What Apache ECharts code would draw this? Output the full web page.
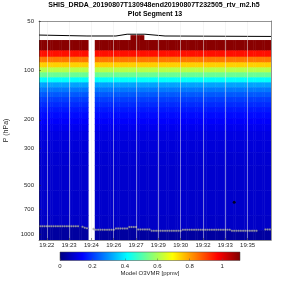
<!DOCTYPE html>
<html>
<head>
<meta charset="utf-8">
<script src="https://cdn.jsdelivr.net/npm/echarts@6/dist/echarts.min.js"></script>
<style>
  html, body { margin: 0; padding: 0; background: #fff; }
  #chart { width: 300px; height: 300px; }
</style>
</head>
<body>
<div id="chart"></div>
<script>
// pressure band edges (hPa), top to bottom, and O3 VMR (ppmv) inside each band
const bandEdges = [65.3, 75.5, 82.5, 89.3, 95.8, 102.7, 110.2, 118.2, 126.8, 135.5, 145.3, 155.9,
  167.2, 179.4, 195.2, 212.3, 234, 266, 315, 378, 537, 762, 1080];
const bandO3 = [1.10, 0.955, 0.84, 0.745, 0.615, 0.53, 0.42, 0.315, 0.27, 0.235, 0.205, 0.185,
  0.165, 0.15, 0.135, 0.12, 0.108, 0.097, 0.09, 0.085, 0.082, 0.078];
const belowSurfO3 = 0.035;

// surface pressure per profile (hPa), profiles 1..104
const surfP = [
  889, 889, 889, 889, 889, 889, 889, 889, 889, 889, 889, 889, 889, 889, 889, 889, 889, 889,
  892, 897, 908, 915, null, null, 926,
  935, 935, 935, 935, 935, 935, 935, 935, 935,
  918, 918, 918, 918, 918, 918,
  900, 900, 900, 900,
  931, 931, 931, 931, 931, 931,
  950, 950, 950, 950, 950, 950, 950, 950, 950, 950, 950, 950, 950, 950,
  935, 935, 935, 935, 935, 935, 935, 935, 935, 935, 935, 935, 935, 935, 935, 935, 935, 935, 935, 935, 935, 935,
  950, 950, 950, 950, 950, 950, 950, 950, 950, 950, 950, 950,
  940, 940, 940,
  931, 931, 931
];
const missingProfiles = [23, 24, 25];
const noDotProfiles = [19, 99, 100, 101];
const highTopProfiles = [42, 43, 44, 45, 46, 47];
const highTopP = 61.0;

// black line near the top [profile, hPa]
const topLine = [[0.5, 60.9], [22, 61.7], [35, 61.7], [40, 60.2], [48, 60.2], [57, 61.7], [104.5, 62.1]];
// single black marker [profile, hPa]
const spot = [[88, 637]];

const tickProfiles = [4, 14, 24, 34, 44, 54, 64, 74, 84, 94];
const tickTimes = ['19:22', '19:23', '19:24', '19:26', '19:27', '19:29', '19:30', '19:32', '19:33', '19:35'];
const pTicks = [50, 100, 200, 300, 500, 700, 1000];
const cLim = [0, 1.11];

function clamp(v) { return Math.max(0, Math.min(1, v)); }
function jet(t) {
  t = clamp(t);
  const r = clamp(Math.min(4 * t - 1.5, -4 * t + 4.5));
  const g = clamp(Math.min(4 * t - 0.5, -4 * t + 3.5));
  const b = clamp(Math.min(4 * t + 0.5, -4 * t + 2.5));
  return 'rgb(' + Math.round(r * 255) + ',' + Math.round(g * 255) + ',' + Math.round(b * 255) + ')';
}

// cells: [profile, pTop, pBottom, o3]
const cells = [];
const pBottom = bandEdges[bandEdges.length - 1];
for (let i = 1; i <= surfP.length; i++) {
  if (missingProfiles.includes(i)) continue;
  const ps = surfP[i - 1];
  for (let b = 0; b < bandO3.length; b++) {
    const top = b === 0 && highTopProfiles.includes(i) ? highTopP : bandEdges[b];
    const bot = Math.min(bandEdges[b + 1], ps);
    if (bot > top) cells.push([i, top, bot, bandO3[b]]);
  }
  cells.push([i, ps, pBottom, belowSurfO3]);
}

const dots = [];
surfP.forEach((p, k) => {
  if (p != null && !noDotProfiles.includes(k + 1)) dots.push([k + 1, p]);
});

const txt = '#262626';
const font = 'Liberation Sans, Arial, sans-serif';
const titleStyle = { fontSize: 7, fontWeight: 'bold', color: '#000', fontFamily: font };

const chart = echarts.init(document.getElementById('chart'));
chart.setOption({
  animation: false,
  textStyle: { fontFamily: font },
  title: [
    { text: 'SHIS_DRDA_20190807T130948end20190807T232505_rtv_m2.h5', left: 154, top: 2, textAlign: 'center', padding: 0, textStyle: titleStyle },
    { text: 'Plot Segment 13', left: 155, top: 11, textAlign: 'center', padding: 0, textStyle: titleStyle }
  ],
  grid: [
    { left: 39, right: 29, top: 21, height: 219, outerBoundsMode: 'none' },
    { left: 60, width: 180, top: 252, height: 8.5, outerBoundsMode: 'none' }
  ],
  xAxis: [
    {
      type: 'value', gridIndex: 0, min: 0.5, max: 104.5, z: 10,
      axisLine: { show: true, lineStyle: { color: txt, width: 0.5 } },
      axisTick: { show: true, inside: true, length: 2, customValues: tickProfiles, lineStyle: { color: txt, width: 0.5 } },
      axisLabel: {
        customValues: tickProfiles, fontSize: 6, color: txt, margin: 2,
        formatter: v => tickTimes[tickProfiles.indexOf(v)]
      },
      splitLine: { show: true, lineStyle: { color: '#ebebeb', width: 0.5 } }
    },
    {
      type: 'value', gridIndex: 0, position: 'top', min: 0.5, max: 104.5, z: 10,
      axisLine: { show: true, lineStyle: { color: txt, width: 0.5 } },
      axisTick: { show: false }, axisLabel: { show: false }, splitLine: { show: false }
    },
    {
      type: 'value', gridIndex: 1, min: cLim[0], max: cLim[1], interval: 0.2, z: 10,
      name: 'Model O3VMR [ppmv]', nameLocation: 'middle', nameGap: 9,
      nameTextStyle: { fontSize: 6, color: txt },
      axisLine: { show: false },
      axisTick: { show: true, inside: true, length: 2, lineStyle: { color: '#555', width: 0.5 } },
      axisLabel: { fontSize: 6, color: txt, margin: 3, showMaxLabel: false },
      splitLine: { show: false }
    }
  ],
  yAxis: [
    {
      type: 'log', logBase: 10, gridIndex: 0, min: 50, max: 1080, inverse: true, z: 10,
      name: 'P (hPa)', nameLocation: 'middle', nameGap: 17,
      nameTextStyle: { fontSize: 7, color: txt },
      axisLine: { show: true, lineStyle: { color: txt, width: 0.5 } },
      axisTick: { show: true, inside: true, length: 2, customValues: pTicks, lineStyle: { color: txt, width: 0.5 } },
      axisLabel: { customValues: pTicks, fontSize: 6, color: txt, margin: 5, formatter: v => String(v) },
      splitLine: { show: false }
    },
    {
      type: 'log', logBase: 10, gridIndex: 0, position: 'right', min: 50, max: 1080, inverse: true, z: 10,
      axisLine: { show: true, lineStyle: { color: txt, width: 0.5 } },
      axisTick: { show: false }, axisLabel: { show: false }, splitLine: { show: false }
    },
    {
      type: 'value', gridIndex: 1, min: 0, max: 1, show: false
    }
  ],
  series: [
    {
      type: 'custom',
      xAxisIndex: 0, yAxisIndex: 0,
      clip: true,
      progressive: 0,
      encode: { x: 0, y: [1, 2] },
      data: cells,
      renderItem: (params, api) => {
        const i = api.value(0);
        const a = api.coord([i - 0.5, api.value(1)]);
        const c = api.coord([i + 0.5, api.value(2)]);
        const col = jet(api.value(3) / cLim[1]);
        return {
          type: 'rect',
          shape: { x: a[0], y: a[1], width: c[0] - a[0] + 0.5, height: c[1] - a[1] + 0.5 },
          style: { fill: col }
        };
      }
    },
    {
      type: 'line',
      xAxisIndex: 0, yAxisIndex: 0,
      data: topLine,
      symbol: 'none',
      lineStyle: { color: '#000', width: 1 },
      z: 4
    },
    {
      type: 'scatter',
      xAxisIndex: 0, yAxisIndex: 0,
      data: dots,
      symbol: 'circle', symbolSize: 2,
      itemStyle: { color: '#b0b0b0', borderColor: '#7a7a7a', borderWidth: 0.3 },
      z: 5
    },
    {
      type: 'scatter',
      xAxisIndex: 0, yAxisIndex: 0,
      data: spot,
      symbol: 'circle', symbolSize: 3,
      itemStyle: { color: '#000' },
      z: 5
    },
    {
      type: 'custom',
      xAxisIndex: 2, yAxisIndex: 2,
      data: [[cLim[0], cLim[1]]],
      renderItem: (params, api) => {
        const a = api.coord([api.value(0), 1]);
        const c = api.coord([api.value(1), 0]);
        const stops = [];
        for (let k = 0; k <= 64; k++) stops.push({ offset: k / 64, color: jet(k / 64) });
        return {
          type: 'rect',
          shape: { x: a[0], y: a[1], width: c[0] - a[0], height: c[1] - a[1] },
          style: {
            fill: new echarts.graphic.LinearGradient(0, 0, 1, 0, stops),
            stroke: '#444', lineWidth: 0.5
          }
        };
      }
    }
  ]
});
</script>
</body>
</html>
